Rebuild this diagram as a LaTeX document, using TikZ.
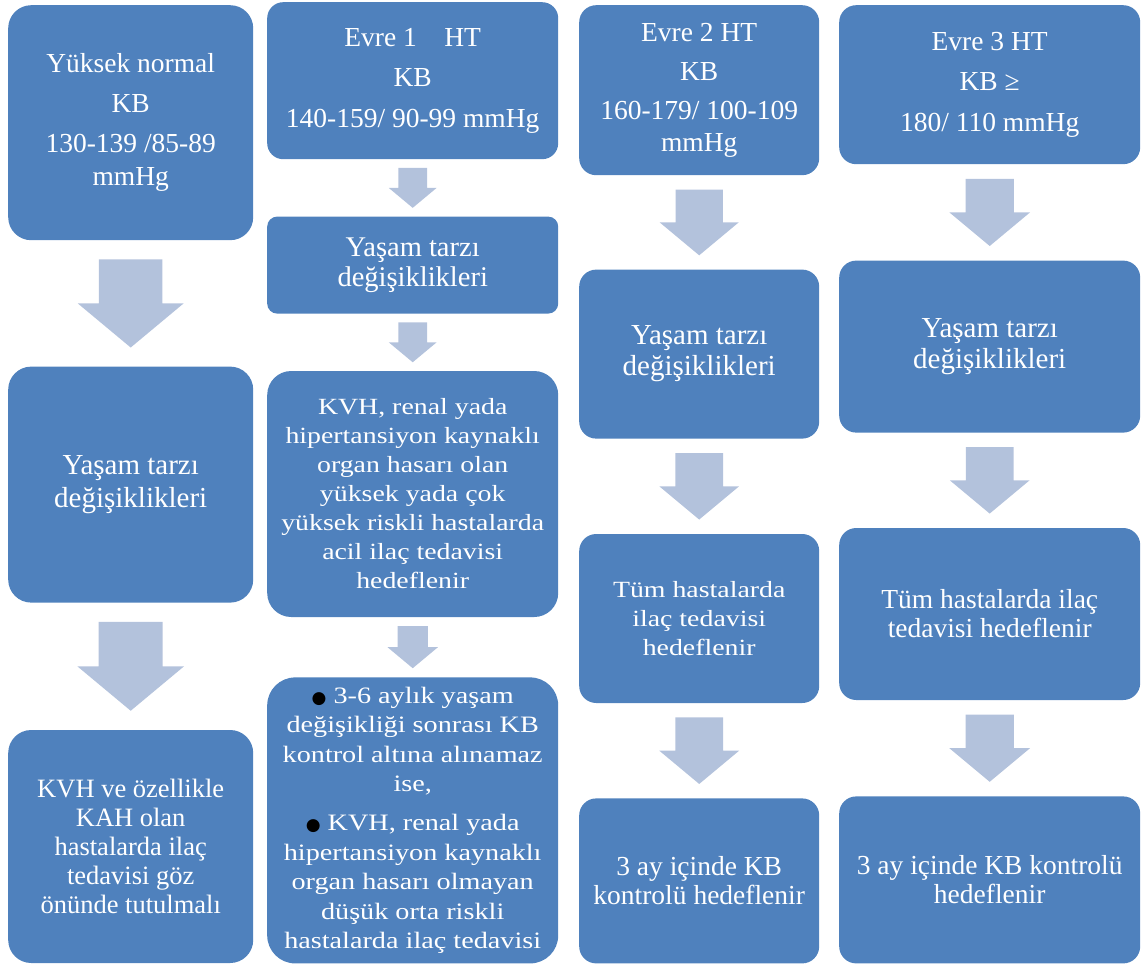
\documentclass[tikz,border=0pt]{standalone}
\usepackage{fontspec}
\setmainfont{Liberation Serif}
\newfontfamily\widefont[FakeStretch=1.2]{Liberation Serif}
\newfontfamily\dotfont{DejaVu Sans}
\usetikzlibrary{positioning,calc}
\definecolor{boxblue}{RGB}{79,129,189}
\definecolor{arrowblue}{RGB}{179,194,220}
\tikzset{
    box/.style={
        rectangle,
        rounded corners=#1,
        fill=boxblue,
        text=white,
        align=center,
        inner sep=0pt,
        font=\fontsize{27.5}{33}\selectfont,
    },
    box/.default=17pt,
    flow/.style={
        fill=arrowblue,
    },
}
\newcommand{\flowarrow}[2]{%
    \fill[flow] let \p1=($(#1.south)!0.15!(#2.north)$),
                    \p2=($(#1.south)!0.85!(#2.north)$),
                    \n1={\y1-\y2} in
        (\x1-0.36*\n1,\y1) -- (\x1+0.36*\n1,\y1)
        -- (\x1+0.36*\n1,\y1-0.5*\n1) -- (\x1+0.6*\n1,\y1-0.5*\n1)
        -- (\x2,\y2) -- (\x1-0.6*\n1,\y1-0.5*\n1)
        -- (\x1-0.36*\n1,\y1-0.5*\n1) -- cycle;
}
\newcommand{\bul}{{\dotfont\fontsize{17}{17}\selectfont\textcolor{black}{●}}}

\begin{document}
\begin{tikzpicture}[x=1pt,y=1pt]
    \useasboundingbox (0,0) rectangle (1141,-964);
    \node [box=23pt, minimum width=245pt, minimum height=235pt, anchor=north west] (a1) at (8,-5) {Yüksek normal\\[7pt] KB\\[7pt] 130-139 /85-89\\ mmHg};
    \node [box=23pt, minimum width=245pt, minimum height=236pt, font=\fontsize{29}{33}\selectfont] (a2) [below=126pt of a1] {Yaşam tarzı\\ değişiklikleri};
    \node [box=23pt, minimum width=245pt, minimum height=233pt, font=\fontsize{26.5}{29}\selectfont] (a3) [below=127pt of a2] {KVH ve özellikle\\ KAH olan\\ hastalarda ilaç\\ tedavisi göz\\ önünde tutulmalı};

    \node [box=16pt, minimum width=291pt, minimum height=157pt, anchor=north west] (b1) at (267,-2) {Evre 1\quad HT\\[7.5pt] KB\\[7.5pt] 140-159/ 90-99 mmHg};
    \node [box=10pt, minimum width=291pt, minimum height=97pt, font=\fontsize{28.5}{30}\selectfont] (b2) [below=57pt of b1] {Yaşam tarzı\\ değişiklikleri};
    \node [box=24pt, minimum width=291pt, minimum height=246pt, font=\widefont\fontsize{23.2}{29}\selectfont] (b3) [below=57pt of b2] {KVH, renal yada\\ hipertansiyon kaynaklı\\ organ hasarı olan\\ yüksek yada çok\\ yüksek riskli hastalarda\\ acil ilaç tedavisi\\ hedeflenir};
    \node [box=28pt, minimum width=291pt, minimum height=286pt, font=\widefont\fontsize{23.5}{29.5}\selectfont] (b4) [below=60pt of b3] {\bul{} 3-6 aylık yaşam\\ değişikliği sonrası KB\\ kontrol altına alınamaz\\ ise,\\[9.5pt] \bul{} KVH, renal yada\\ hipertansiyon kaynaklı\\ organ hasarı olmayan\\ düşük orta riskli\\ hastalarda ilaç tedavisi};

    \node [box, minimum width=240pt, minimum height=170pt, anchor=north west, font=\fontsize{27.5}{32}\selectfont] (c1) at (579,-5) {Evre 2 HT\\[7pt] KB\\[7pt] 160-179/ 100-109\\ mmHg};
    \node [box, minimum width=240pt, minimum height=169pt, font=\fontsize{29}{31}\selectfont] (c2) [below=94pt of c1] {Yaşam tarzı\\ değişiklikleri};
    \node [box, minimum width=240pt, minimum height=169pt, font=\widefont\fontsize{23.2}{29}\selectfont] (c3) [below=95pt of c2] {Tüm hastalarda\\ ilaç tedavisi\\ hedeflenir};
    \node [box, minimum width=240pt, minimum height=165pt, font=\fontsize{27.5}{29}\selectfont] (c4) [below=95pt of c3] {3 ay içinde KB\\ kontrolü hedeflenir};

    \node [box, minimum width=301pt, minimum height=159pt, anchor=north west] (d1) at (839,-5) {Evre 3 HT\\[7.5pt] KB ≥\\[7.5pt] 180/ 110 mmHg};
    \node [box, minimum width=301pt, minimum height=172pt, font=\fontsize{29}{31}\selectfont] (d2) [below=96pt of d1] {Yaşam tarzı\\ değişiklikleri};
    \node [box, minimum width=301pt, minimum height=172pt, font=\fontsize{27.5}{29}\selectfont] (d3) [below=95pt of d2] {Tüm hastalarda ilaç\\ tedavisi hedeflenir};
    \node [box, minimum width=301pt, minimum height=167pt, font=\fontsize{27.5}{29}\selectfont] (d4) [below=96pt of d3] {3 ay içinde KB kontrolü\\ hedeflenir};

    \flowarrow{a1}{a2}
    \flowarrow{a2}{a3}
    \flowarrow{b1}{b2}
    \flowarrow{b2}{b3}
    \flowarrow{b3}{b4}
    \flowarrow{c1}{c2}
    \flowarrow{c2}{c3}
    \flowarrow{c3}{c4}
    \flowarrow{d1}{d2}
    \flowarrow{d2}{d3}
    \flowarrow{d3}{d4}
\end{tikzpicture}
\end{document}
